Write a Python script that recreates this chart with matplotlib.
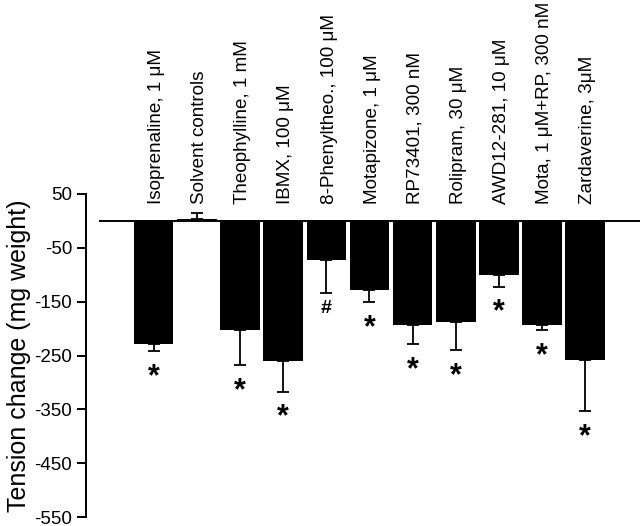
import matplotlib
matplotlib.use("Agg")
import matplotlib.pyplot as plt

plt.rcParams['font.family'] = ['Liberation Sans', 'DejaVu Sans']
plt.rcParams['axes.unicode_minus'] = False

# data
labels = ["Isoprenaline, 1 \u03bcM", "Solvent controls", "Theophylline, 1 mM",
          "IBMX, 100 \u03bcM", "8-Phenyltheo., 100 \u03bcM", "Motapizone, 1 \u03bcM",
          "RP73401, 300 nM", "Rolipram, 30 \u03bcM", "AWD12-281, 10 \u03bcM",
          "Mota, 1 \u03bcM+RP, 300 nM", "Zardaverine, 3\u03bcM"]
means = [-228, 4, -202, -261, -72, -129, -193, -187, -100, -193, -258]
errs = [13, 10, 66, 56, 62, 22, 35, 53, 22, 9, 95]
marks = ["*", "", "*", "*", "#", "*", "*", "*", "*", "*", "*"]
yticks = [50, -50, -150, -250, -350, -450, -550]

fig = plt.figure(figsize=(6.4, 5.26), dpi=100)
ax = fig.add_axes([86 / 640, 1 - 517 / 526, 1 - 86 / 640, (517 - 194) / 526])

x = list(range(len(means)))
ax.bar(x, means, width=0.915, color="black", zorder=2)

# one-sided error bars (away from zero)
for i in x:
    m = means[i]
    e = errs[i]
    if m < 0:
        ax.errorbar(i, m, yerr=[[e], [0]], fmt="none", ecolor="black",
                    elinewidth=1.3, capsize=4.5, capthick=1.3, zorder=1)
    else:
        ax.errorbar(i, m, yerr=[[0], [e]], fmt="none", ecolor="black",
                    elinewidth=1.3, capsize=4.5, capthick=1.3, zorder=1)
    if marks[i] == "*":
        ax.annotate("*", xy=(i, m - e), xytext=(0, -8), textcoords="offset points",
                    ha="center", va="top", fontsize=22, fontweight="bold")
    elif marks[i] == "#":
        ax.annotate("#", xy=(i, m - e), xytext=(0, -5), textcoords="offset points",
                    ha="center", va="top", fontsize=14, fontweight="bold")

# zero line
ax.plot([-1.24, 11.3], [0, 0], color="black", lw=1.4, clip_on=False, zorder=3)

# treatment labels standing above the zero line
for i, lab in enumerate(labels):
    ax.annotate(lab, xy=(i, 0), xytext=(2, 12.5), textcoords="offset points",
                rotation=90, ha="center", va="bottom", fontsize=13.6,
                annotation_clip=False)

ax.set_xlim(-1.57, 11.27)
ax.set_ylim(-550, 50)
ax.set_yticks(yticks)
ax.set_yticklabels([str(t) for t in yticks], fontsize=13.5)
ax.set_ylabel("Tension change (mg weight)", fontsize=18, labelpad=2)
ax.set_xticks([])
for s in ["top", "right", "bottom"]:
    ax.spines[s].set_visible(False)
ax.spines["left"].set_linewidth(1.4)
ax.tick_params(axis="y", length=6.5, width=1.4, direction="out")

fig.savefig("out.png", dpi=100)
